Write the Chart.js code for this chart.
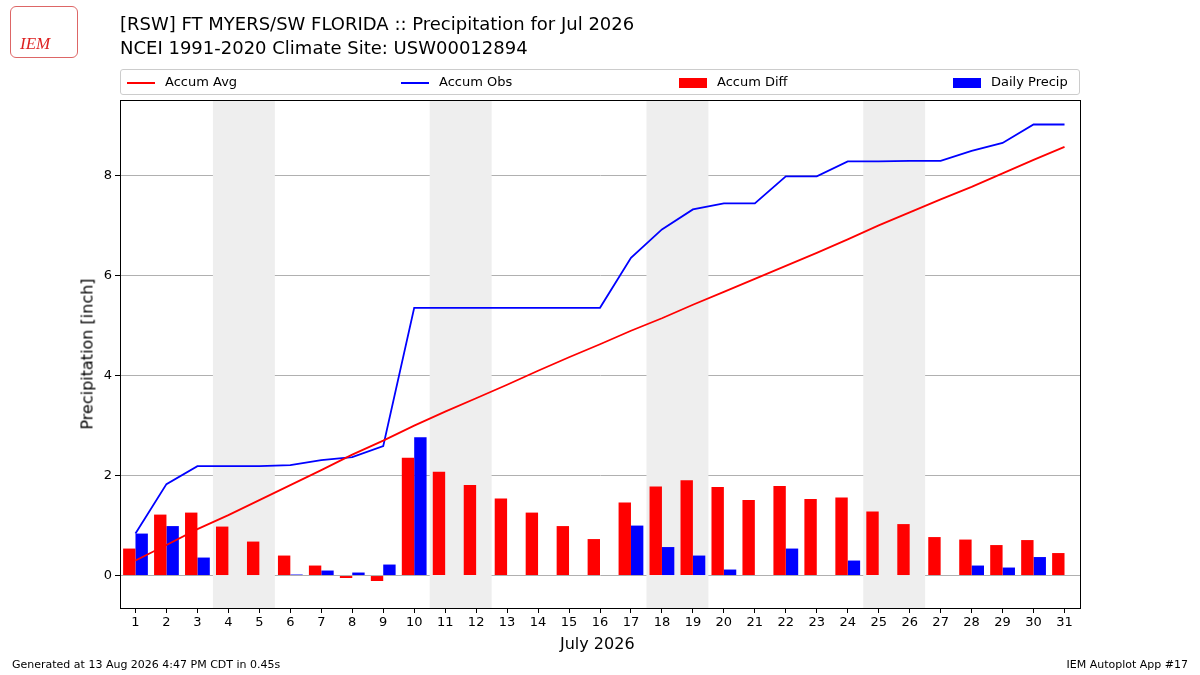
<!DOCTYPE html>
<html>
<head>
<meta charset="utf-8">
<script src="https://cdn.jsdelivr.net/npm/chart.js@4.4.0/dist/chart.umd.min.js"></script>
<style>
  body { margin: 0; width: 1200px; height: 675px; background: #fff; font-family: "DejaVu Sans", sans-serif; position: relative; overflow: hidden; }
  #wrap { position: absolute; left: 0; top: 0; width: 1200px; height: 675px; }
  .t { position: absolute; color: #000; white-space: nowrap; }
  #legend { position: absolute; left: 120px; top: 69px; width: 958px; height: 24px; border: 1px solid #ccc; border-radius: 3px; font-size: 13px; }
  .li { position: absolute; top: 4px; }
  .sw { display: inline-block; vertical-align: middle; margin-right: 10px; }
</style>
</head>
<body>
<div id="wrap"><canvas id="c" width="1200" height="675"></canvas></div>
<div class="t" style="left:10px;top:6px;width:66px;height:50px;border:1px solid #d66;border-radius:6px;"></div>
<div class="t" style="left:20px;top:34px;font-family:'Liberation Serif',serif;font-style:italic;font-size:17px;color:#d22;">IEM</div>
<div class="t" style="left:120px;top:13px;font-size:18px;">[RSW] FT MYERS/SW FLORIDA :: Precipitation for Jul 2026</div>
<div class="t" style="left:120px;top:37px;font-size:18px;">NCEI 1991-2020 Climate Site: USW00012894</div>
<div id="legend">
  <div class="li" style="left:6px;"><span class="sw" style="width:28px;height:2px;background:#f00;"></span>Accum Avg</div>
  <div class="li" style="left:280px;"><span class="sw" style="width:28px;height:2px;background:#00f;"></span>Accum Obs</div>
  <div class="li" style="left:558px;"><span class="sw" style="width:28px;height:10px;background:#f00;"></span>Accum Diff</div>
  <div class="li" style="left:832px;"><span class="sw" style="width:28px;height:10px;background:#00f;"></span>Daily Precip</div>
</div>
<div class="t" style="left:560px;top:634px;font-size:16px;">July 2026</div>
<div class="t" style="left:87px;top:354px;font-size:16px;transform:translate(-50%,-50%) rotate(-90deg);">Precipitation [inch]</div>
<div class="t" style="left:12px;top:658px;font-size:11px;">Generated at 13 Aug 2026 4:47 PM CDT in 0.45s</div>
<div class="t" style="right:12px;top:658px;font-size:11px;">IEM Autoplot App #17</div>
<script>
const days = Array.from({length: 31}, (_, i) => String(i + 1));
const accumObs = [0.84,1.83,2.19,2.19,2.19,2.21,2.31,2.37,2.59,5.36,5.36,5.36,5.36,5.36,5.36,5.36,6.36,6.93,7.33,7.45,7.45,7.99,7.99,8.29,8.29,8.30,8.30,8.50,8.66,9.03,9.03];
const accumAvg = [0.30,0.61,0.93,1.21,1.51,1.81,2.11,2.42,2.70,3.00,3.28,3.55,3.82,4.10,4.37,4.63,4.90,5.15,5.42,5.68,5.94,6.20,6.46,6.73,7.01,7.27,7.53,7.78,8.05,8.32,8.58];
const accumDiff = [0.54,1.22,1.26,0.98,0.68,0.40,0.20,-0.05,-0.11,2.36,2.08,1.81,1.54,1.26,0.99,0.73,1.46,1.78,1.91,1.77,1.51,1.79,1.53,1.56,1.28,1.03,0.77,0.72,0.61,0.71,0.45];
const dailyPrecip = [0.84,0.99,0.36,0,0,0.02,0.10,0.06,0.22,2.77,0,0,0,0,0,0,1.00,0.57,0.40,0.12,0,0.54,0,0.30,0,0.01,0,0.20,0.16,0.37,0];
const weekends = [4, 11, 18, 25]; // Sat start, two-day span
const yTicks = [0, 2, 4, 6, 8];

const shade = {
  id: 'shade',
  beforeDatasetsDraw(chart) {
    const {ctx, chartArea, scales: {x}} = chart;
    const half = (x.getPixelForValue(1) - x.getPixelForValue(0)) / 2;
    ctx.save();
    ctx.fillStyle = '#eeeeee';
    weekends.forEach(d => {
      const a = x.getPixelForValue(d - 1) - half;
      const b = x.getPixelForValue(d) + half;
      ctx.fillRect(a, chartArea.top, b - a, chartArea.bottom - chartArea.top);
    });
    ctx.restore();
  },
  afterDraw(chart) {
    const {ctx, chartArea: a} = chart;
    ctx.save();
    ctx.strokeStyle = '#000';
    ctx.lineWidth = 1;
    ctx.strokeRect(a.left + 0.5, a.top + 0.5, a.right - a.left, a.bottom - a.top);
    ctx.restore();
  }
};

const font = {family: 'DejaVu Sans', size: 13};
new Chart(document.getElementById('c'), {
  data: {
    labels: days,
    datasets: [
      {type: 'line', label: 'Accum Avg', data: accumAvg, borderColor: '#f00', borderWidth: 1.8, pointRadius: 0, order: 0},
      {type: 'line', label: 'Accum Obs', data: accumObs, borderColor: '#00f', borderWidth: 1.8, pointRadius: 0, order: 0},
      {type: 'bar', label: 'Accum Diff', data: accumDiff, backgroundColor: '#f00', barPercentage: 1.0, categoryPercentage: 0.8, order: 1},
      {type: 'bar', label: 'Daily Precip', data: dailyPrecip, backgroundColor: '#00f', barPercentage: 1.0, categoryPercentage: 0.8, order: 1}
    ]
  },
  options: {
    responsive: false,
    animation: false,
    layout: {padding: {top: 100, right: 120, bottom: 0, left: 0}},
    plugins: {legend: {display: false}, tooltip: {enabled: false}},
    scales: {
      x: {
        grid: {offset: false, drawOnChartArea: false, drawTicks: true, tickColor: '#000', tickLength: 5},
        border: {color: '#000'},
        ticks: {color: '#000', font, maxRotation: 0, autoSkip: false, padding: 2},
        afterFit(s) { s.height = 67; }
      },
      y: {
        min: -0.65, max: 9.52,
        afterBuildTicks(s) { s.ticks = yTicks.map(v => ({value: v})); },
        grid: {color: '#b0b0b0', drawTicks: true, tickColor: '#000', tickLength: 5},
        border: {color: '#000'},
        ticks: {color: '#000', font},
        afterFit(s) { s.width = 120; }
      }
    }
  },
  plugins: [shade]
});
</script>
</body>
</html>
